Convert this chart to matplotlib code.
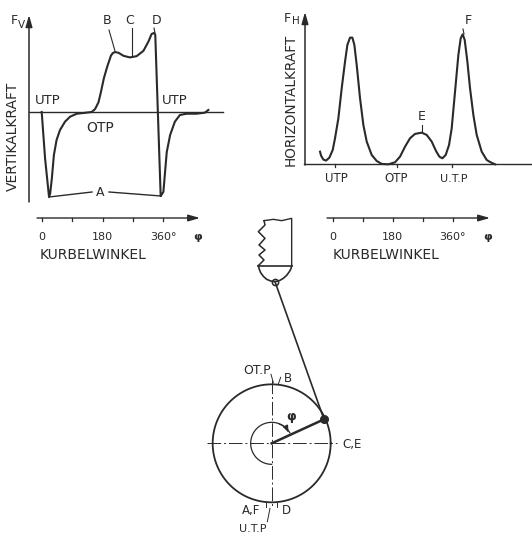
import numpy as np
import matplotlib
matplotlib.use("Agg")
import matplotlib.pyplot as plt

W, H = 532, 539
INK = "#2a2a2a"

# vertical force over crank angle
fv_angle = [0, 10, 21.7, 25, 30, 36, 44, 54, 69, 84, 104, 123, 148, 158, 168, 175.5, 184, 194, 205, 211, 217, 227,
            242, 261, 281, 301, 316, 325, 332, 336, 352, 360, 365, 370, 380, 394, 409, 429, 458, 483, 493]
fv_force = [0, -.547, -1, -.96, -.783, -.508, -.33, -.213, -.114, -.055, -.02, -.012, 0, .035, .114, .24, .398,
            .535, .665, .695, .705, .697, .661, .642, .657, .72, .83, .917, .93, .91, -.99, -.94, -.705, -.47,
            -.27, -.114, -.035, -.02, -.02, -.008, .024]

# horizontal force over crank angle
fh_angle = [-38, -35, -28, -20, -10, 0, 7, 17, 27, 37, 44, 52, 59, 65, 72, 82, 92, 102, 117, 132, 147, 167, 187,
            202, 217, 232, 247, 267, 282, 297, 310, 320, 329, 339, 349, 357, 367, 377, 384, 390, 396, 404, 412,
            422, 432, 447, 462, 472, 487]
fh_force = [.099, .068, .037, .029, .052, .112, .204, .36, .595, .804, .935, .992, .992, .935, .778, .517, .308,
            .178, .073, .026, .003, 0, .016, .06, .138, .204, .238, .248, .23, .178, .104, .06, .047, .073, .151,
            .282, .569, .856, .987, 1.018, .974, .804, .595, .386, .23, .099, .034, .018, 0]

angle_ticks = [0, 90, 180, 270, 360]
angle_labels = ["0", "180", "360°"]
angle_label_pos = [0, 180, 360]

# crank drawing, read in a 3x grid of the lower panel
piston_edge_x = [222, 250, 275, 305, 305]
piston_edge_y = [62, 58, 62, 55, 197]
ring_x = [222, 225, 205, 225, 207, 225, 207, 222, 205]
ring_y = [62, 75, 95, 115, 135, 150, 165, 180, 197]
cap_x = [205, 208, 212, 220, 230, 242, 255, 268, 280, 290, 298, 303, 305]
cap_y = [197, 208, 218, 229, 238, 243, 245, 242, 235, 226, 215, 206, 197]
wrist_pin = (255, 245)
crank_center = (245, 730)
crank_pin = (402, 658)
crank_radius = 177

fig = plt.figure(figsize=(W / 100, H / 100), dpi=100)
plt.rcParams["font.family"] = "DejaVu Sans"


def panel(left, top, right, bottom, xlim, ylim):
    ax = fig.add_axes([left / W, 1 - bottom / H, (right - left) / W, (bottom - top) / H])
    ax.set_xlim(*xlim)
    ax.set_ylim(*ylim)
    ax.axis("off")
    ax.patch.set_alpha(0)
    return ax


def label(ax, x, y, s, size=8.5, **kw):
    ax.text(x, y, s, fontsize=size, color=INK, ha=kw.pop("ha", "center"), va=kw.pop("va", "center"), **kw)


def arrow(ax, start, end, lw=1.0):
    ax.annotate("", xy=end, xytext=start,
                arrowprops=dict(arrowstyle="-|>,head_length=0.7,head_width=0.2", color=INK, lw=lw,
                                shrinkA=0, shrinkB=0))


def angle_axis(ax, y, x_start, x_end, tick_len, phi_x, name_x, name_y, label_y):
    arrow(ax, (x_start, y), (x_end, y))
    for t in angle_ticks:
        ax.plot([t, t], [y, y - tick_len], color=INK, lw=0.9)
    for t, s in zip(angle_label_pos, angle_labels):
        label(ax, t, label_y, s, size=8)
    label(ax, phi_x, label_y, "φ", size=8, fontweight="bold")
    label(ax, name_x, name_y, "KURBELWINKEL", size=10, ha="left")


# left panel, px 0..266 and 0..270
vx = lambda px: (px - 41.7) / 0.338
vy = lambda py: (112 - py) / 85
ax_v = panel(0, 0, 266, 270, (vx(0), vx(266)), (vy(270), vy(0)))
ax_v.plot(fv_angle, fv_force, color=INK, lw=1.5, solid_joinstyle="round")
ax_v.plot([vx(29), vx(223)], [0, 0], color=INK, lw=1.0)
arrow(ax_v, (vx(29), vy(202)), (vx(29), vy(15)), lw=1.1)
label(ax_v, vx(14), vy(20), "F", size=9)
label(ax_v, vx(21), vy(25), "V", size=7.5)
label(ax_v, vx(13), vy(136), "VERTIKALKRAFT", rotation=90, size=10)
label(ax_v, vx(48), vy(101), "UTP", size=9.5)
label(ax_v, vx(175), vy(101), "UTP", size=9.5)
label(ax_v, vx(100), vy(128), "OTP", size=10)
label(ax_v, vx(107), vy(20), "B", size=9)
label(ax_v, vx(130), vy(20), "C", size=9)
label(ax_v, vx(157), vy(20), "D", size=9)
label(ax_v, vx(100), vy(192), "A", size=9)
ax_v.plot([vx(109), vx(115)], [vy(30), vy(51)], color=INK, lw=0.8)
ax_v.plot([vx(132), vx(132)], [vy(28), vy(56)], color=INK, lw=0.8)
ax_v.plot([vx(154), vx(155)], [vy(28), vy(33)], color=INK, lw=0.8)
ax_v.plot([vx(49), vx(92)], [vy(197), vy(192)], color=INK, lw=1.0)
ax_v.plot([vx(109), vx(161)], [vy(192), vy(196)], color=INK, lw=1.0)
angle_axis(ax_v, vy(218), vx(37), vx(200), (vy(218) - vy(221)), vx(198), vx(40), vy(255), vy(237))

# right panel
hx = lambda px: (px - 332.7) * 3
hy = lambda py: (164.3 - py) / 127.7
ax_h = panel(266, 0, 532, 270, (hx(266), hx(532)), (hy(270), hy(0)))
ax_h.plot(fh_angle, fh_force, color=INK, lw=1.5, solid_joinstyle="round")
ax_h.plot([hx(304), hx(532)], [0, 0], color=INK, lw=1.0)
arrow(ax_h, (hx(305), hy(165)), (hx(305), hy(12)), lw=1.1)
label(ax_h, hx(287), hy(18), "F", size=9)
label(ax_h, hx(296), hy(21), "H", size=7.5)
label(ax_h, hx(291), hy(100), "HORIZONTALKRAFT", rotation=90, size=9.8)
for px in [334.5, 396.7, 451.7]:
    ax_h.plot([hx(px), hx(px)], [0, hy(167)], color=INK, lw=0.9)
label(ax_h, hx(336), hy(179), "UTP", size=8.5)
label(ax_h, hx(396), hy(179), "OTP", size=8.5)
label(ax_h, hx(454), hy(179), "U.T.P", size=8)
label(ax_h, hx(422), hy(117), "E", size=9)
ax_h.plot([hx(422), hx(422)], [hy(125), hy(132)], color=INK, lw=0.8)
label(ax_h, hx(468), hy(20), "F", size=9)
ax_h.plot([hx(463), hx(464)], [hy(29), hy(34)], color=INK, lw=0.8)
angle_axis(ax_h, hy(218), hx(327), hx(490), (hy(218) - hy(221)), hx(488), hx(333), hy(255), hy(237))

# crank panel, in the 3x grid
ax_c = panel(190, 200, 390, 539, (0, 600), (1017, 0))
ax_c.plot(piston_edge_x, piston_edge_y, color=INK, lw=1.0)
ax_c.plot(ring_x, ring_y, color=INK, lw=1.1)
ax_c.plot(cap_x, cap_y, color=INK, lw=1.2)
ax_c.plot([205, 305], [197, 197], color=INK, lw=1.2)
ax_c.plot(*wrist_pin, "o", ms=4.5, mfc="none", mec=INK, mew=1.1)
ax_c.plot([wrist_pin[0], crank_pin[0]], [wrist_pin[1], crank_pin[1]], color=INK, lw=1.2)
t = np.radians(np.arange(0, 361, 3))
ax_c.plot(crank_center[0] + crank_radius * np.cos(t), crank_center[1] + crank_radius * np.sin(t), color=INK, lw=1.3)
ax_c.plot([50, 440], [730, 730], color=INK, lw=0.7, dashes=(14, 3, 2, 3))
ax_c.plot([245, 245], [540, 925], color=INK, lw=0.7, dashes=(14, 3, 2, 3))
ax_c.plot([crank_center[0], crank_pin[0]], [crank_center[1], crank_pin[1]], color=INK, lw=1.8)
ax_c.plot(*crank_pin, "o", ms=5.5, color=INK)
arc = np.radians(np.arange(90, 335, 5))
ax_c.plot(245 + 63 * np.cos(arc), 730 + 63 * np.sin(arc), color=INK, lw=0.9)
ax_c.annotate("", xy=(296, 698), xytext=(268, 672),
              arrowprops=dict(arrowstyle="-|>,head_length=0.4,head_width=0.15", color=INK, lw=0.9,
                              connectionstyle="arc3,rad=-0.2", shrinkA=0, shrinkB=0))
label(ax_c, 302, 649, "φ", size=9, fontweight="bold")
label(ax_c, 200, 510, "OT.P", size=9)
label(ax_c, 293, 537, "B", size=8.5)
label(ax_c, 485, 733, "C,E", size=8.5)
label(ax_c, 183, 932, "A,F", size=8.5)
label(ax_c, 288, 932, "D", size=8.5)
label(ax_c, 188, 987, "U.T.P", size=8)
for xs, ys in [([243, 250], [523, 548]), ([265, 272], [552, 532]), ([228, 228], [908, 920]),
               ([262, 262], [908, 922]), ([240, 232], [925, 965])]:
    ax_c.plot(xs, ys, color=INK, lw=0.7)

fig.savefig("out.png", dpi=100)
